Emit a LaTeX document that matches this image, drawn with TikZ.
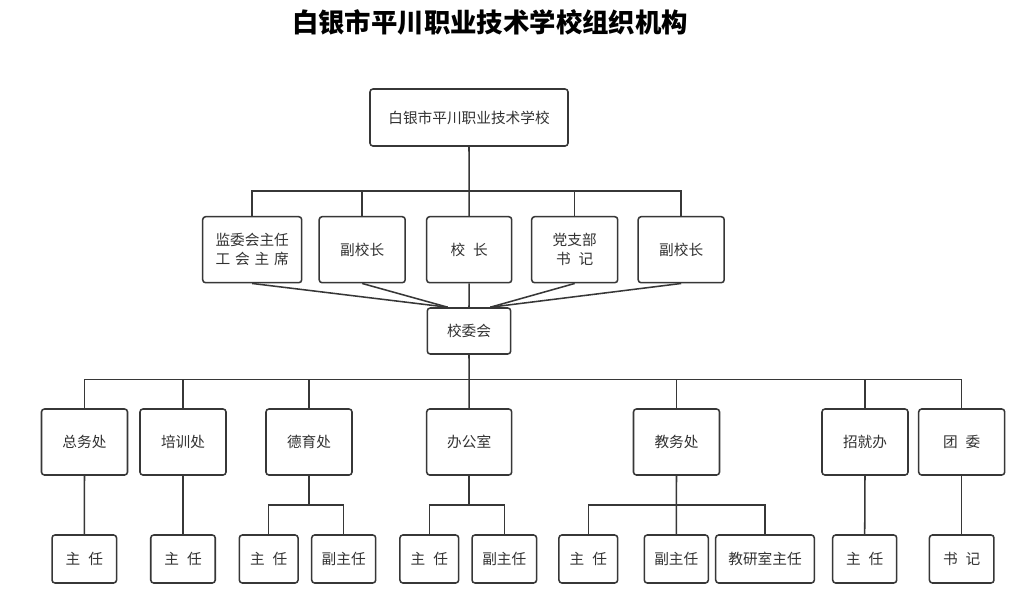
\documentclass[tikz,border=0pt]{standalone}
\usepackage{fontspec}
\newfontfamily\cjk{Noto Sans CJK SC}
\usetikzlibrary{calc}
\definecolor{ln}{RGB}{55,55,55}
\definecolor{tx}{RGB}{50,50,50}
\tikzset{
  box/.style={draw=ln, line width=1.15pt, rounded corners=2.2pt, fill=white, text=tx,
    inner sep=0pt, align=center, font=\cjk\fontsize{11}{14.5}\selectfont},
  rtwo/.style={box, minimum width={86*0.75pt}, minimum height={66*0.75pt}},
  rthree/.style={box, minimum width={86*0.75pt}, minimum height={66*0.75pt}},
  rfour/.style={box, minimum width={64.5*0.75pt}, minimum height={48*0.75pt}},
  rfoursm/.style={box, minimum width={58.7*0.75pt}, minimum height={48*0.75pt}},
  conn/.style={draw=ln, line width=1.15pt}
}
\newcommand{\gapsp}{\hspace{0.55em}}
\begin{document}
\begin{tikzpicture}[x=0.75pt, y=-0.75pt]
\path[use as bounding box, fill=white] (0,0) rectangle (1033,601);

% title
\node[font=\cjk\bfseries\fontsize{19.8}{22}\selectfont, text=black] (title) at (490,22) {白银市平川职业技术学校组织机构};

% top
\node[box, minimum width={198*0.75pt}, minimum height={57*0.75pt}] (top) at (469,117.5) {白银市平川职业技术学校};

% row 2
\node[rtwo, minimum width={99*0.75pt}] (ra) at (252.2,249.7) {监委会主任\\工\hspace{0.33em}会\hspace{0.33em}主\hspace{0.33em}席};
\node[rtwo] (rb) at (362.2,249.7) {副校长};
\node[rtwo, minimum width={85*0.75pt}] (rc) at (469.2,249.7) {校\gapsp 长};
\node[rtwo] (rd) at (574.7,249.7) {党支部\\书\gapsp 记};
\node[rtwo] (re) at (681.2,249.7) {副校长};

% committee
\node[box, minimum width={83.4*0.75pt}, minimum height={46*0.75pt}] (xwh) at (469,331) {校委会};

% row 3
\node[rthree] (zw) at (84.5,442) {总务处};
\node[rthree] (px) at (183,442) {培训处};
\node[rthree] (dy) at (309,442) {德育处};
\node[rthree, minimum width={85*0.75pt}] (bg) at (469.2,442) {办公室};
\node[rthree] (jw) at (676.5,442) {教务处};
\node[rthree] (zj) at (865,442) {招就办};
\node[rthree] (tw) at (961.7,442) {团\gapsp 委};

% row 4
\node[rfour] (zw1) at (84.3,559) {主\gapsp 任};
\node[rfour] (px1) at (183,559) {主\gapsp 任};
\node[rfoursm] (dy1) at (268.7,559) {主\gapsp 任};
\node[rfour, minimum width={64*0.75pt}] (dy2) at (343.7,559) {副主任};
\node[rfoursm] (bg1) at (429.3,559) {主\gapsp 任};
\node[rfour] (bg2) at (504.3,559) {副主任};
\node[rfoursm] (jw1) at (588.3,559) {主\gapsp 任};
\node[rfour, minimum width={64*0.75pt}] (jw2) at (676.3,559) {副主任};
\node[box, minimum width={98.6*0.75pt}, minimum height={48*0.75pt}] (jw3) at (765,559) {教研室主任};
\node[rfour, minimum width={64*0.75pt}] (zj1) at (864.7,559) {主\gapsp 任};
\node[rfour] (tw1) at (961.7,559) {书\gapsp 记};

% connectors: top to row 2
\coordinate (busA) at (0,191);
\draw[conn] (top.south) -- (rc.north);
\draw[conn] (ra.north) -- (ra.north |- busA) -- (re.north |- busA) -- (re.north);
\draw[conn] (rb.north) -- (rb.north |- busA);
\draw[conn] (rd.north) -- (rd.north |- busA);

% row 2 to committee
\coordinate (xl) at ($(xwh.north)!0.5!(xwh.north west)$);
\coordinate (xr) at ($(xwh.north)!0.5!(xwh.north east)$);
\draw[conn] (ra.south) -- (xl);
\draw[conn] (rb.south) -- (xl);
\draw[conn] (rc.south) -- (xwh.north);
\draw[conn] (rd.south) -- (xr);
\draw[conn] (re.south) -- (xr);

% committee to row 3
\coordinate (busB) at (0,379.5);
\draw[conn] (xwh.south) -- (bg.north);
\draw[conn] (zw.north) -- (zw.north |- busB) -- (tw.north |- busB) -- (tw.north);
\foreach \n in {px,dy,jw,zj} \draw[conn] (\n.north) -- (\n.north |- busB);

% row 3 to row 4
\coordinate (busC) at (0,505);
\draw[conn] (zw.south) -- (zw1.north);
\draw[conn] (px.south) -- (px1.north);
\draw[conn] (zj.south) -- (zj1.north);
\draw[conn] (tw.south) -- (tw1.north);
\draw[conn] (dy.south) -- (dy.south |- busC);
\draw[conn] (dy1.north) -- (dy1.north |- busC) -- (dy2.north |- busC) -- (dy2.north);
\draw[conn] (bg.south) -- (bg.south |- busC);
\draw[conn] (bg1.north) -- (bg1.north |- busC) -- (bg2.north |- busC) -- (bg2.north);
\draw[conn] (jw.south) -- (jw2.north);
\draw[conn] (jw1.north) -- (jw1.north |- busC) -- (jw3.north |- busC) -- (jw3.north);
\end{tikzpicture}
\end{document}
